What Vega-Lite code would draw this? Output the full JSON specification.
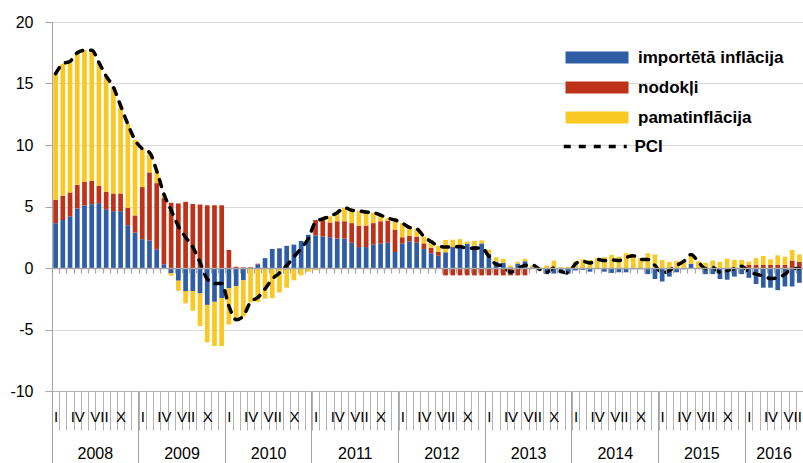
{
  "$schema": "https://vega.github.io/schema/vega-lite/v6.json",
  "width": 751,
  "height": 369,
  "autosize": {"type": "none"},
  "padding": {"left": 52, "top": 22, "right": 0, "bottom": 72},
  "background": "white",
  "config": {
    "view": {"stroke": null},
    "font": "Liberation Sans",
    "axis": {"labelColor": "#000", "labelFont": "Liberation Sans", "titleColor": "#000"},
    "legend": {"labelFont": "Liberation Sans"}
  },
  "data": {"values": [
    {"m":"2008-01","b":3.64,"r":1.9,"y":10.26,"p":15.8},
    {"m":"2008-02","b":3.9,"r":1.97,"y":10.73,"p":16.6},
    {"m":"2008-03","b":4.2,"r":1.94,"y":10.66,"p":16.8},
    {"m":"2008-04","b":4.84,"r":1.93,"y":10.73,"p":17.5},
    {"m":"2008-05","b":5.08,"r":1.92,"y":10.7,"p":17.7},
    {"m":"2008-06","b":5.19,"r":1.9,"y":10.61,"p":17.7},
    {"m":"2008-07","b":5.27,"r":1.41,"y":10.02,"p":16.7},
    {"m":"2008-08","b":4.78,"r":1.42,"y":9.4,"p":15.6},
    {"m":"2008-09","b":4.62,"r":1.44,"y":8.64,"p":14.7},
    {"m":"2008-10","b":4.62,"r":1.44,"y":7.14,"p":13.2},
    {"m":"2008-11","b":3.48,"r":1.41,"y":6.81,"p":11.7},
    {"m":"2008-12","b":2.88,"r":1.39,"y":6.13,"p":10.4},
    {"m":"2009-01","b":2.34,"r":4.24,"y":3.12,"p":9.7},
    {"m":"2009-02","b":2.23,"r":5.54,"y":1.63,"p":9.4},
    {"m":"2009-03","b":1.52,"r":5.38,"y":1.0,"p":7.9},
    {"m":"2009-04","b":0.3,"r":5.38,"y":0.3,"p":6.0},
    {"m":"2009-05","b":-0.43,"r":5.3,"y":-0.19,"p":4.7},
    {"m":"2009-06","b":-1.03,"r":5.25,"y":-0.82,"p":3.4},
    {"m":"2009-07","b":-1.87,"r":5.38,"y":-1.0,"p":2.5},
    {"m":"2009-08","b":-1.87,"r":5.2,"y":-1.6,"p":1.7},
    {"m":"2009-09","b":-2.07,"r":5.16,"y":-2.64,"p":0.45},
    {"m":"2009-10","b":-3.0,"r":5.1,"y":-3.04,"p":-0.9},
    {"m":"2009-11","b":-2.75,"r":5.1,"y":-3.6,"p":-1.25},
    {"m":"2009-12","b":-2.45,"r":5.1,"y":-3.9,"p":-1.25},
    {"m":"2010-01","b":-1.65,"r":1.47,"y":-2.95,"p":-3.1},
    {"m":"2010-02","b":-1.47,"r":0.1,"y":-2.85,"p":-4.2},
    {"m":"2010-03","b":-1.0,"r":0.05,"y":-2.95,"p":-3.9},
    {"m":"2010-04","b":0.02,"r":0.05,"y":-2.8,"p":-2.75},
    {"m":"2010-05","b":0.3,"r":0.05,"y":-2.75,"p":-2.4},
    {"m":"2010-06","b":0.8,"r":0,"y":-2.5,"p":-1.7},
    {"m":"2010-07","b":1.55,"r":0,"y":-2.45,"p":-0.9},
    {"m":"2010-08","b":1.6,"r":0,"y":-2.0,"p":-0.4},
    {"m":"2010-09","b":1.8,"r":0,"y":-1.6,"p":0.2},
    {"m":"2010-10","b":1.9,"r":0,"y":-1.0,"p":0.9},
    {"m":"2010-11","b":2.2,"r":0,"y":-0.6,"p":1.6},
    {"m":"2010-12","b":2.7,"r":0,"y":-0.3,"p":2.4},
    {"m":"2011-01","b":2.65,"r":1.25,"y":-0.15,"p":3.75},
    {"m":"2011-02","b":2.55,"r":1.35,"y":0.1,"p":4.0},
    {"m":"2011-03","b":2.5,"r":1.2,"y":0.5,"p":4.2},
    {"m":"2011-04","b":2.4,"r":1.4,"y":0.7,"p":4.5},
    {"m":"2011-05","b":2.4,"r":1.4,"y":1.1,"p":4.9},
    {"m":"2011-06","b":2.05,"r":1.6,"y":1.05,"p":4.7},
    {"m":"2011-07","b":1.7,"r":1.75,"y":1.2,"p":4.65},
    {"m":"2011-08","b":1.7,"r":1.75,"y":1.1,"p":4.55},
    {"m":"2011-09","b":1.9,"r":1.75,"y":0.85,"p":4.5},
    {"m":"2011-10","b":2.0,"r":1.8,"y":0.5,"p":4.3},
    {"m":"2011-11","b":2.05,"r":1.8,"y":0.2,"p":4.05},
    {"m":"2011-12","b":1.3,"r":1.8,"y":0.8,"p":3.9},
    {"m":"2012-01","b":2.0,"r":0.5,"y":1.15,"p":3.65},
    {"m":"2012-02","b":2.15,"r":0.45,"y":0.7,"p":3.3},
    {"m":"2012-03","b":2.05,"r":0.5,"y":0.65,"p":3.2},
    {"m":"2012-04","b":1.55,"r":0.45,"y":0.55,"p":2.55},
    {"m":"2012-05","b":1.2,"r":0.45,"y":0.5,"p":2.15},
    {"m":"2012-06","b":1.0,"r":0.3,"y":0.5,"p":1.8},
    {"m":"2012-07","b":1.28,"r":-0.6,"y":1.0,"p":1.7},
    {"m":"2012-08","b":1.7,"r":-0.6,"y":0.6,"p":1.7},
    {"m":"2012-09","b":1.8,"r":-0.6,"y":0.55,"p":1.75},
    {"m":"2012-10","b":1.95,"r":-0.6,"y":0.2,"p":1.6},
    {"m":"2012-11","b":1.8,"r":-0.6,"y":0.4,"p":1.6},
    {"m":"2012-12","b":2.0,"r":-0.6,"y":0.25,"p":1.65},
    {"m":"2013-01","b":1.15,"r":-0.6,"y":0.35,"p":0.95},
    {"m":"2013-02","b":0.5,"r":-0.6,"y":0.38,"p":0.3},
    {"m":"2013-03","b":0.42,"r":-0.6,"y":0.33,"p":0.15},
    {"m":"2013-04","b":0.05,"r":-0.6,"y":0.15,"p":-0.35},
    {"m":"2013-05","b":0.36,"r":-0.6,"y":0.14,"p":-0.05},
    {"m":"2013-06","b":0.55,"r":-0.6,"y":0.2,"p":0.2},
    {"m":"2013-07","b":0.05,"r":0,"y":0.15,"p":0.25},
    {"m":"2013-08","b":-0.15,"r":0,"y":0.05,"p":-0.1},
    {"m":"2013-09","b":-0.5,"r":0,"y":0.2,"p":-0.35},
    {"m":"2013-10","b":-0.45,"r":0,"y":0.6,"p":0.0},
    {"m":"2013-11","b":-0.35,"r":0,"y":0.05,"p":-0.3},
    {"m":"2013-12","b":-0.45,"r":0,"y":0.1,"p":-0.4},
    {"m":"2014-01","b":-0.2,"r":0,"y":0.55,"p":0.35},
    {"m":"2014-02","b":-0.15,"r":0,"y":0.7,"p":0.55},
    {"m":"2014-03","b":-0.3,"r":0,"y":0.65,"p":0.4},
    {"m":"2014-04","b":-0.05,"r":0,"y":0.8,"p":0.7},
    {"m":"2014-05","b":-0.3,"r":0,"y":0.87,"p":0.6},
    {"m":"2014-06","b":-0.4,"r":0,"y":1.06,"p":0.65},
    {"m":"2014-07","b":-0.35,"r":0,"y":0.92,"p":0.6},
    {"m":"2014-08","b":-0.35,"r":0,"y":1.2,"p":0.85},
    {"m":"2014-09","b":-0.1,"r":0,"y":1.1,"p":1.0},
    {"m":"2014-10","b":-0.1,"r":0,"y":0.8,"p":0.7},
    {"m":"2014-11","b":-0.5,"r":0,"y":1.2,"p":0.7},
    {"m":"2014-12","b":-0.9,"r":0,"y":1.1,"p":0.2},
    {"m":"2015-01","b":-1.1,"r":0,"y":0.65,"p":-0.4},
    {"m":"2015-02","b":-0.7,"r":0,"y":0.5,"p":-0.2},
    {"m":"2015-03","b":-0.35,"r":0,"y":0.55,"p":0.2},
    {"m":"2015-04","b":-0.1,"r":0,"y":0.65,"p":0.55},
    {"m":"2015-05","b":0.35,"r":0,"y":0.75,"p":1.1},
    {"m":"2015-06","b":-0.05,"r":0,"y":0.55,"p":0.5},
    {"m":"2015-07","b":-0.5,"r":0,"y":0.43,"p":-0.05},
    {"m":"2015-08","b":-0.5,"r":0,"y":0.6,"p":0.05},
    {"m":"2015-09","b":-0.9,"r":0,"y":0.5,"p":-0.35},
    {"m":"2015-10","b":-0.95,"r":0,"y":0.76,"p":-0.2},
    {"m":"2015-11","b":-0.7,"r":0,"y":0.65,"p":-0.05},
    {"m":"2015-12","b":-0.5,"r":0,"y":0.65,"p":0.15},
    {"m":"2016-01","b":-0.8,"r":0.25,"y":0.27,"p":-0.3},
    {"m":"2016-02","b":-1.3,"r":0.25,"y":0.55,"p":-0.5},
    {"m":"2016-03","b":-1.6,"r":0.25,"y":0.73,"p":-0.65},
    {"m":"2016-04","b":-1.6,"r":0.25,"y":0.45,"p":-0.85},
    {"m":"2016-05","b":-1.8,"r":0.25,"y":0.78,"p":-0.8},
    {"m":"2016-06","b":-1.5,"r":0.25,"y":0.67,"p":-0.5},
    {"m":"2016-07","b":-1.5,"r":0.6,"y":0.87,"p":-0.05},
    {"m":"2016-08","b":-1.2,"r":0.5,"y":0.6,"p":-0.05}
  ]},
  "layer": [
    {
      "transform": [{"fold": ["b", "r", "y"], "as": ["k", "v"]}],
      "mark": {"type": "bar", "width": {"band": 0.65}},
      "encoding": {
        "x": {
          "field": "m", "type": "ordinal",
          "scale": {"type": "band", "paddingInner": 0, "paddingOuter": 0},
          "axis": {
            "orient": "bottom", "title": null, "labelAngle": 0,
            "tickBand": "extent", "tickSize": 39, "tickColor": "#b3b3b3", "tickWidth": 1,
            "domainColor": "#b3b3b3", "domainWidth": 1,
            "labelPadding": -13.5, "labelBaseline": "middle", "labelFontSize": 15,
            "labelOverlap": false, "labelFlush": false,
            "labelExpr": "slice(datum.label,5)=='01'?'I':slice(datum.label,5)=='04'?'IV':slice(datum.label,5)=='07'?'VII':slice(datum.label,5)=='10'?'X':''"
          }
        },
        "y": {
          "field": "v", "type": "quantitative", "stack": "zero",
          "scale": {"domain": [-10, 20], "nice": false},
          "axis": {
            "title": null, "values": [-10, -5, 0, 5, 10, 15, 20],
            "grid": true, "gridColor": "#d9d9d9", "gridWidth": 1.2,
            "tickSize": 7, "tickColor": "#a6a6a6", "domainColor": "#a6a6a6",
            "labelFontSize": 16, "labelPadding": 12,
            "labelExpr": "'' + datum.value"
          }
        },
        "color": {
          "field": "k", "type": "nominal",
          "scale": {"domain": ["b", "r", "y"], "range": ["#2e5ca5", "#be3219", "#f9c823"]},
          "legend": {
            "orient": "none", "legendX": 536.5, "legendY": 27, "title": null, "padding": 0,
            "symbolType": "M-5.25,-1L5.25,-1L5.25,1L-5.25,1Z", "symbolSize": 144,
            "symbolStrokeWidth": 0, "symbolOpacity": 1,
            "labelOffset": 32.5, "labelFontSize": 17, "labelFontWeight": "bold", "labelColor": "#000",
            "labelLimit": 300, "rowPadding": 12,
            "labelExpr": "datum.label=='b'?'importētā inflācija':datum.label=='r'?'nodokļi':'pamatinflācija'"
          }
        },
        "order": {"field": "k", "sort": "ascending"}
      }
    },
    {
      "mark": {"type": "line", "color": "#000", "strokeWidth": 3.5, "strokeCap": "round", "interpolate": "monotone"},
      "encoding": {
        "x": {
          "field": "m", "type": "ordinal",
          "scale": {"type": "band", "paddingInner": 0, "paddingOuter": 0},
          "axis": {
            "orient": "bottom", "title": null, "labels": false, "domain": false, "grid": false,
            "values": ["2008-01","2009-01","2010-01","2011-01","2012-01","2013-01","2014-01","2015-01","2016-01"],
            "bandPosition": 0, "tickSize": 72, "tickColor": "#a0a0a0", "tickWidth": 1
          }
        },
        "y": {"field": "p", "type": "quantitative", "scale": {"domain": [-10, 20], "nice": false}},
        "strokeDash": {
          "datum": "PCI", "type": "nominal",
          "scale": {"domain": ["PCI"], "range": [[7, 8]]},
          "legend": {
            "orient": "none", "legendX": 534.75, "legendY": 116, "title": null, "padding": 0,
            "symbolType": "M-5.25,0L5.25,0", "symbolSize": 144, "symbolStrokeWidth": 3.5,
            "symbolStrokeColor": "#000",
            "labelOffset": 30.75, "labelFontSize": 17, "labelFontWeight": "bold", "labelColor": "#000"
          }
        }
      }
    },
    {
      "mark": {"type": "point", "opacity": 0},
      "encoding": {
        "x": {
          "field": "m", "type": "ordinal",
          "scale": {"type": "band", "paddingInner": 0, "paddingOuter": 0},
          "axis": {
            "orient": "bottom", "title": null, "domain": false, "grid": false,
            "values": ["2008-07","2009-07","2010-07","2011-07","2012-07","2013-07","2014-07","2015-07","2016-05"],
            "ticks": true, "tickSize": 0, "tickOpacity": 0,
            "labelPadding": 62.5, "labelBaseline": "middle", "labelFontSize": 16, "labelAngle": 0,
            "labelOffset": -3.61, "labelOverlap": false,
            "labelExpr": "slice(datum.label,0,4)"
          }
        }
      }
    },
    {
      "mark": {"type": "point", "opacity": 0},
      "encoding": {
        "x": {
          "field": "m", "type": "ordinal",
          "scale": {"type": "band", "paddingInner": 0, "paddingOuter": 0},
          "axis": {
            "orient": "bottom", "title": null, "labels": false, "grid": false,
            "tickBand": "extent", "tickSize": 5, "tickColor": "#a6a6a6", "tickWidth": 1.2,
            "domain": true, "domainColor": "#a6a6a6", "domainWidth": 1.5,
            "offset": -123, "zindex": 1
          }
        }
      }
    }
  ],
  "resolve": {"axis": {"x": "independent"}}
}
